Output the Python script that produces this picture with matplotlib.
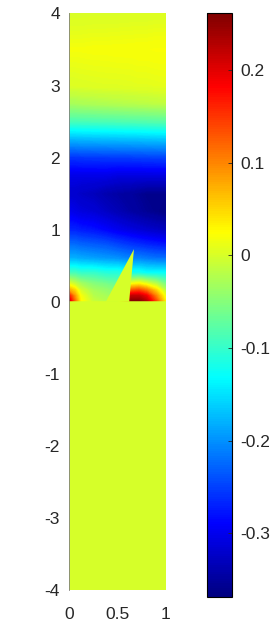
import matplotlib
matplotlib.use("Agg")
import matplotlib.pyplot as plt
from matplotlib.patches import Polygon
from matplotlib.colors import Normalize, LinearSegmentedColormap
from matplotlib.cm import ScalarMappable
import numpy as np

plt.rcParams["font.family"] = ["Liberation Sans", "DejaVu Sans"]
plt.rcParams["axes.unicode_minus"] = False

# field above y=0 (rows = y_nodes, cols = x_nodes)
x_nodes = [0, 0.06, 0.12, 0.25, 0.38, 0.5, 0.64, 0.72, 0.8, 0.9, 1.0]
y_nodes = [0, 0.08, 0.16, 0.25, 0.4, 0.6, 0.8, 1.0, 1.25, 1.5, 1.75,
           2.0, 2.25, 2.5, 2.75, 3.0, 3.5, 4.0]
field = [
    [0.22, 0.12, 0.03, -0.01, -0.02, -0.02, 0.26, 0.26, 0.23, 0.14, 0.03],
    [0.17, 0.09, 0.02, -0.02, -0.03, -0.04, 0.22, 0.22, 0.19, 0.10, 0.01],
    [0.08, 0.05, 0.00, -0.03, -0.04, -0.05, 0.13, 0.14, 0.11, 0.05, -0.02],
    [0.01, -0.01, -0.03, -0.05, -0.06, -0.07, 0.02, 0.03, 0.01, -0.02, -0.06],
    [-0.09, -0.09, -0.10, -0.10, -0.11, -0.11, -0.12, -0.12, -0.13, -0.13, -0.13],
    [-0.18, -0.18, -0.185, -0.19, -0.195, -0.20, -0.21, -0.21, -0.215, -0.22, -0.22],
    [-0.225, -0.225, -0.23, -0.235, -0.24, -0.25, -0.26, -0.265, -0.27, -0.275, -0.28],
    [-0.27, -0.27, -0.275, -0.28, -0.29, -0.30, -0.31, -0.315, -0.32, -0.325, -0.33],
    [-0.30, -0.305, -0.31, -0.315, -0.325, -0.335, -0.345, -0.35, -0.355, -0.36, -0.365],
    [-0.32, -0.32, -0.325, -0.33, -0.34, -0.345, -0.35, -0.355, -0.36, -0.36, -0.36],
    [-0.305, -0.305, -0.305, -0.305, -0.305, -0.31, -0.31, -0.31, -0.31, -0.31, -0.31],
    [-0.26, -0.26, -0.258, -0.257, -0.256, -0.255, -0.254, -0.253, -0.252, -0.251, -0.25],
    [-0.18, -0.18, -0.178, -0.177, -0.176, -0.175, -0.174, -0.173, -0.172, -0.171, -0.17],
    [-0.09, -0.09, -0.089, -0.088, -0.087, -0.086, -0.084, -0.083, -0.082, -0.081, -0.08],
    [-0.03, -0.03, -0.028, -0.026, -0.024, -0.022, -0.02, -0.019, -0.018, -0.016, -0.015],
    [0.003, 0.003, 0.004, 0.005, 0.006, 0.006, 0.007, 0.008, 0.008, 0.009, 0.01],
    [0.018, 0.018, 0.018, 0.019, 0.019, 0.02, 0.02, 0.021, 0.021, 0.022, 0.022],
    [0.0, 0.0, 0.0, 0.001, 0.001, 0.001, 0.002, 0.002, 0.002, 0.003, 0.003],
]

# lower half is flat zero
low_x = [0, 1]
low_y = [-4, 0]
low_vals = [[0, 0], [0, 0]]

# wedge (value 0)
tri_x = [0.38, 0.62, 0.67]
tri_y = [0.0, 0.0, 0.73]
tri_val = 0.0

vmin, vmax = -0.369, 0.262
cbar_ticks = [-0.3, -0.2, -0.1, 0, 0.1, 0.2]
cbar_labels = ["-0.3", "-0.2", "-0.1", "0", "0.1", "0.2"]

# MATLAB-style jet
jet_m = LinearSegmentedColormap.from_list("jet_m", [
    (0.0, (0, 0, 0.5)), (0.125, (0, 0, 1)), (0.375, (0, 1, 1)),
    (0.625, (1, 1, 0)), (0.875, (1, 0, 0)), (1.0, (0.5, 0, 0))], N=256)

fig = plt.figure(figsize=(2.8, 6.3), dpi=100)
ax = fig.add_axes([0.2464, 0.0635, 0.3464, 0.9151])
cax = fig.add_axes([0.739, 0.0524, 0.0893, 0.9270])

norm = Normalize(vmin=vmin, vmax=vmax)
levels = np.linspace(vmin, vmax, 300)

X, Y = np.meshgrid(x_nodes, y_nodes)
ax.contourf(X, Y, np.array(field), levels=levels, cmap=jet_m, norm=norm,
            antialiased=False)
LX, LY = np.meshgrid(low_x, low_y)
ax.pcolormesh(LX, LY, np.array(low_vals), cmap=jet_m, norm=norm, shading="gouraud")
ax.add_patch(Polygon(np.column_stack([tri_x, tri_y]), closed=True,
                     facecolor=jet_m(norm(tri_val)), edgecolor="none", zorder=3))

ax.set_xlim(0, 1)
ax.set_ylim(-4, 4)
ax.set_xticks([0, 0.5, 1])
ax.set_xticklabels(["0", "0.5", "1"])
ax.set_yticks(range(-4, 5))
ax.tick_params(axis="both", length=0, labelsize=12.5, colors="#262626")
ax.tick_params(axis="x", pad=12)
ax.tick_params(axis="y", pad=6.5)
for s in ["top", "right", "bottom"]:
    ax.spines[s].set_visible(False)
ax.spines["left"].set_color("#808080")
ax.spines["left"].set_linewidth(0.6)

cb = fig.colorbar(ScalarMappable(norm=norm, cmap=jet_m), cax=cax, ticks=cbar_ticks)
cb.ax.set_yticklabels(cbar_labels)
cb.ax.tick_params(direction="in", length=3, width=0.6, labelsize=12.5, pad=6, colors="#262626")
cb.outline.set_linewidth(0.8)

fig.savefig("out.png", dpi=100)
